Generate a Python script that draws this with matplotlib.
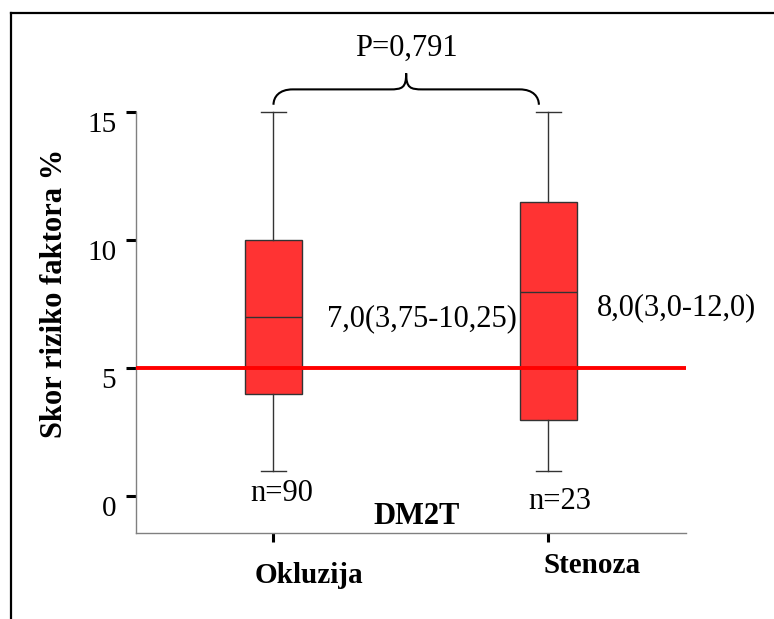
import matplotlib
matplotlib.use("Agg")
import matplotlib.pyplot as plt
from matplotlib.path import Path
from matplotlib.patches import PathPatch
from matplotlib.lines import Line2D

# values
groups = ["Okluzija", "Stenoza"]
whisker_low = [1.0, 1.0]
q1 = [4.0, 3.0]
medians = [7.0, 8.0]
q3 = [10.0, 11.5]
whisker_high = [15.0, 15.0]
counts = [90, 23]
summary_labels = ["7,0(3,75-10,25)", "8,0(3,0-12,0)"]
reference_value = 5.0
p_label = "P=0,791"
group_title = "DM2T"
y_ticks = [0, 5, 10, 15]
y_label = "Skor riziko faktora %"

BOX_COLOR = "#FF3333"
LINE_COLOR = "#333333"
REF_COLOR = "#FF0000"
SPINE_COLOR = "#808080"

plt.rcParams["font.family"] = ["Liberation Serif", "DejaVu Serif"]

fig = plt.figure(figsize=(7.74, 6.19), dpi=100)
ax = fig.add_axes([0.1757, 0.1385, 0.7106, 0.684])

positions = list(range(len(groups)))
stats = []
for i, name in enumerate(groups):
    stats.append({"label": name, "whislo": whisker_low[i], "q1": q1[i], "med": medians[i],
                  "q3": q3[i], "whishi": whisker_high[i], "fliers": []})

ax.bxp(stats, positions=positions, widths=0.204, capwidths=0.09, patch_artist=True, showfliers=False,
       boxprops=dict(facecolor=BOX_COLOR, edgecolor=LINE_COLOR, linewidth=1.0),
       medianprops=dict(color=LINE_COLOR, linewidth=1.0),
       whiskerprops=dict(color=LINE_COLOR, linewidth=1.0),
       capprops=dict(color=LINE_COLOR, linewidth=1.0))

ax.axhline(reference_value, color=REF_COLOR, linewidth=2.8, zorder=5)

ax.set_xlim(-0.5, 1.5)
ax.set_ylim(-1.44, 15.1)
ax.spines["top"].set_visible(False)
ax.spines["right"].set_visible(False)
for side in ("left", "bottom"):
    ax.spines[side].set_color(SPINE_COLOR)
    ax.spines[side].set_linewidth(1.0)
ax.spines["left"].set_bounds(-1.44, max(y_ticks))

ax.set_yticks(y_ticks)
ax.set_yticklabels([str(t) for t in y_ticks], fontsize=21, va="top")
ax.tick_params(axis="y", length=7.2, width=2.2, color="black", pad=7)
ax.set_xticks(positions)
ax.set_xticklabels([])
ax.tick_params(axis="x", length=6.5, width=2.2, color="black")

# group names sit right of their ticks, at slightly different heights
name_dx = [0.13, 0.16]
name_y = [-0.118, -0.094]
for i, name in enumerate(groups):
    ax.text(positions[i] + name_dx[i], name_y[i], name, transform=ax.get_xaxis_transform(),
            ha="center", va="baseline", fontsize=21, fontweight="bold")

# n counts under the lower whiskers
n_dx = [0.03, 0.04]
n_y = [0.11, -0.2]
for i, n in enumerate(counts):
    ax.text(positions[i] + n_dx[i], n_y[i], f"n={n}", ha="center", va="center", fontsize=22)

# median (IQR) labels to the right of each box
sum_dx = [0.196, 0.175]
sum_y = [6.93, 7.36]
for i, lab in enumerate(summary_labels):
    ax.text(positions[i] + sum_dx[i], sum_y[i], lab, ha="left", va="center", fontsize=22, clip_on=False)

ax.text(0.52, -0.8, group_title, ha="center", va="center", fontsize=22, fontweight="bold")

# curly brace joining the two groups, with p value on top
x0, x1 = positions[0], positions[1] - 0.035
xm = (x0 + x1) / 2
y_end, y_flat, y_tip = 15.3, 15.9, 16.53
verts = [(x0, y_end),
         (x0, y_flat - 0.3), (x0 + 0.02, y_flat), (x0 + 0.07, y_flat),
         (xm - 0.06, y_flat),
         (xm - 0.015, y_flat), (xm, y_flat + 0.05), (xm, y_tip),
         (xm, y_flat + 0.05), (xm + 0.015, y_flat), (xm + 0.06, y_flat),
         (x1 - 0.07, y_flat),
         (x1 - 0.02, y_flat), (x1, y_flat - 0.3), (x1, y_end)]
codes = ([Path.MOVETO] + [Path.CURVE4] * 3 + [Path.LINETO] + [Path.CURVE4] * 3
         + [Path.CURVE4] * 3 + [Path.LINETO] + [Path.CURVE4] * 3)
ax.add_patch(PathPatch(Path(verts, codes), facecolor="none", edgecolor="black", linewidth=1.5, clip_on=False))
ax.text(xm, 17.5, p_label, ha="center", va="center", fontsize=22, clip_on=False)

fig.text(55 / 774, 1 - 293 / 619, y_label, rotation=90, ha="center", va="center", fontsize=22, fontweight="bold")

# frame of the original figure (left and top edges)
top = 1 - 12.7 / 619
left = 10.5 / 774
fig.add_artist(Line2D([left, left], [0, top], transform=fig.transFigure, color="black", linewidth=1.6))
fig.add_artist(Line2D([left, 1], [top, top], transform=fig.transFigure, color="black", linewidth=1.6))

fig.savefig("out.png", dpi=100)
plt.close(fig)
